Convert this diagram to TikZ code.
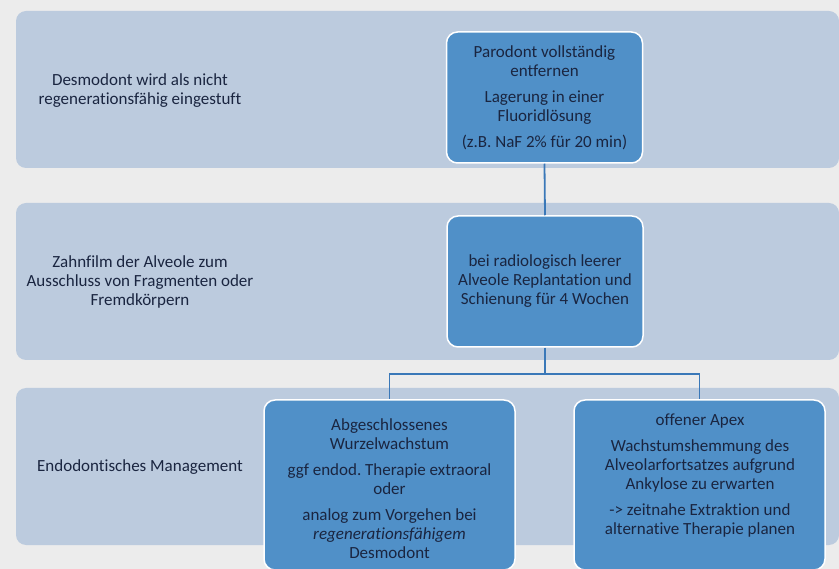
\documentclass[tikz,border=0pt]{standalone}
\usepackage{fontspec}
\setmainfont{Carlito}[Ligatures=NoCommon]
\usetikzlibrary{positioning, calc}
\definecolor{mBack}{HTML}{ECECEC}
\definecolor{mBand}{HTML}{BCCBDE}
\definecolor{mBox}{HTML}{5090C8}
\definecolor{mText}{HTML}{1A2540}
\definecolor{mLine}{HTML}{3A78B8}
\tikzset{
  font=\fontsize{17}{19}\selectfont\frenchspacing,
  band/.style={rectangle, fill=mBand, rounded corners=10pt, minimum width=823pt, minimum height=157pt},
  bandtext/.style={text=mText, align=center},
  box/.style={rectangle, fill=mBox, draw=white, line width=1.5pt, rounded corners=11pt, minimum width=196pt},
  boxtext/.style={text=mText, align=center},
  conn/.style={draw=mLine, line width=1.8pt}
}
\begin{document}
\begin{tikzpicture}[x=1pt, y=-1pt]
        \useasboundingbox (0,0) rectangle (839,569);
        \fill[mBack] (0,0) rectangle (839,569);
        \node[band] (bandone) at (427.5,89.5) {};
        \node[band] (bandtwo) at (427.5,281.5) {};
        \node[band] (bandthree) at (427.5,466.5) {};
        \node[bandtext] (desmo) at (140,91) {Desmodont wird als nicht\\ regenerationsfähig eingestuft};
        \node[bandtext] (zahnfilm) at (140,282) {Zahnfilm der Alveole zum\\ Ausschluss von Fragmenten oder\\ Fremdkörpern};
        \node[bandtext] (endo) at (140,467) {Endodontisches Management};

        \node[box, minimum height=131pt] (parodont) at (544.5,97.5) {};
        \node[boxtext] (parodonttext) at (parodont.center) {Parodont vollständig\\ entfernen\\[7pt] Lagerung in einer\\ Fluoridlösung\\[7pt] (z.B. NaF 2\% für 20 min)};
        \node[box, minimum height=131pt] (replant) at (545,281.5) {};
        \node[boxtext] (replanttext) at (replant.center) {bei radiologisch leerer\\ Alveole Replantation und\\ Schienung für 4 Wochen};
        \node[box, minimum width=251pt, minimum height=170pt] (abg) at (389.5,485) {};
        \node[boxtext] (abgtext) at (389.5,489) {Abgeschlossenes\\ Wurzelwachstum\\[7pt] ggf endod. Therapie extraoral\\ oder\\[7pt] analog zum Vorgehen bei\\ \textit{regenerationsfähigem}\\ Desmodont};
        \node[box, minimum width=251pt, minimum height=170pt] (apex) at (699.5,485) {};
        \node[boxtext] (apextext) at (700,476) {offener Apex\\[7pt] Wachstumshemmung des\\ Alveolarfortsatzes aufgrund\\ Ankylose zu erwarten\\[7pt] -> zeitnahe Extraktion und\\ alternative Therapie planen};

        \draw[conn] (parodont.south) -- (replant.north);
        \draw[conn] (replant.south) -- ++(0,26) coordinate (fork) -| (abg.north);
        \draw[conn] (fork) -| (apex.north);
      \end{tikzpicture}
\end{document}
